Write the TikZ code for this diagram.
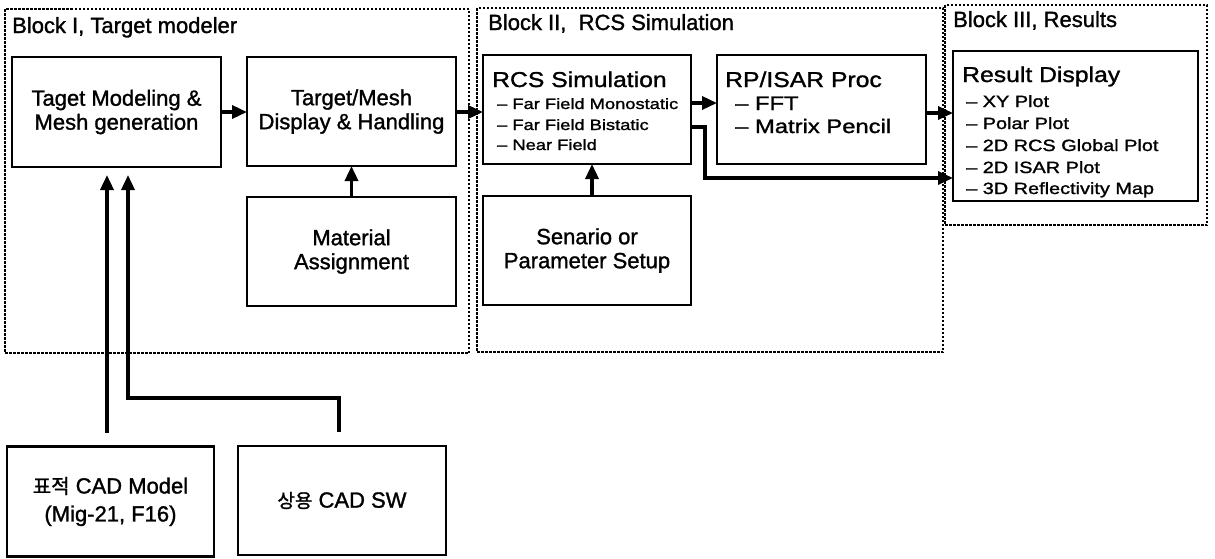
\documentclass[tikz,border=0pt]{standalone}
\usepackage{fontspec}
\setmainfont{Liberation Sans}[FakeBold=1.3]
\newfontfamily\wide{Liberation Sans}[FakeStretch=1.15,FakeBold=1.3]
\newfontfamily\wider{Liberation Sans}[FakeStretch=1.22,FakeBold=1.4]
\newfontfamily\kr{Noto Sans CJK KR}[FakeBold=1.3]
\usetikzlibrary{arrows.meta,calc}
\begin{document}
\begin{tikzpicture}[x=1pt,y=-1pt,
  frame/.style={draw, line width=1.5pt, dash pattern=on 2.5pt off 1.5pt},
  box/.style={draw, line width=2.3pt, rectangle, inner sep=0pt, outer sep=0pt,
    align=center, font=\fontsize{22}{24}\selectfont},
  conn/.style={line width=3.4pt, -{Triangle[length=15pt,width=13pt]}},
  txt/.style={inner sep=0pt, anchor=base west},
  lbl/.style={txt, font=\fontsize{22}{24}\selectfont},
  head/.style={txt, font=\wide\fontsize{21.5}{24}\selectfont},
]
\path[use as bounding box] (0,0) rectangle (1215,558);

% block frames
\draw[frame] (5,9) rectangle (469,353);
\draw[frame] (477,8) rectangle (943,352);
\draw[frame] (945,5) rectangle (1207,225);
\node[lbl] (lb1) at (12,33) {Block I, Target modeler};
\node[lbl] (lb2) at (488,30) {Block II,\ \ RCS Simulation};
\node[lbl] (lb3) at (953,27) {Block III, Results};

% boxes
\node[box, minimum width=209pt, minimum height=110pt] (tmod) at (116.5,112) {Taget Modeling \&\\Mesh generation};
\node[box, minimum width=209pt, minimum height=109pt] (tmesh) at (351.5,111.5) {Target/Mesh\\Display \& Handling};
\node[box, minimum width=209pt, minimum height=109pt] (mat) at (351.5,251.5) {Material\\Assignment};
\node[box, minimum width=208pt, minimum height=109pt] (rcs) at (587,109.5) {};
\node[box, minimum width=209pt, minimum height=109pt] (rp) at (821.5,109.5) {};
\node[box, minimum width=208pt, minimum height=109pt] (sen) at (587,250.5) {Senario or\\Parameter Setup};
\node[box, minimum width=245pt, minimum height=150pt] (res) at (1075.5,126) {};
\node[box, minimum width=207pt, minimum height=110pt, font=\fontsize{22}{28}\selectfont] (cad1) at (110.5,501.5) {{\kr\fontsize{20}{28}\selectfont 표적} CAD Model\\(Mig-21, F16)};
\node[box, minimum width=208pt, minimum height=109pt] (cad2) at (342,500.5) {{\kr\fontsize{19}{24}\selectfont 상용} CAD SW};

% box texts
\node[head] (h1) at (492,87) {RCS Simulation};
\node[txt, font=\wider\fontsize{15}{18}\selectfont] (r1) at (497,109) {– Far Field Monostatic};
\node[txt, font=\wider\fontsize{15}{18}\selectfont] (r2) at (497,130) {– Far Field Bistatic};
\node[txt, font=\wider\fontsize{15}{18}\selectfont] (r3) at (497,150) {– Near Field};
\node[head] (h2) at (725,87) {RP/ISAR Proc};
\node[txt, font=\wider\fontsize{19.5}{22}\selectfont] (p1) at (735,110) {– FFT};
\node[txt, font=\wider\fontsize{19.5}{22}\selectfont] (p2) at (735,133) {– Matrix Pencil};
\node[head] (h3) at (962,82) {Result Display};
\node[txt, font=\wider\fontsize{16.3}{20}\selectfont] (d1) at (966,107) {– XY Plot};
\node[txt, font=\wider\fontsize{16.3}{20}\selectfont] (d2) at (966,129) {– Polar Plot};
\node[txt, font=\wider\fontsize{16.3}{20}\selectfont] (d3) at (966,151) {– 2D RCS Global Plot};
\node[txt, font=\wider\fontsize{16.3}{20}\selectfont] (d4) at (966,173) {– 2D ISAR Plot};
\node[txt, font=\wider\fontsize{16.3}{20}\selectfont] (d5) at (966,194) {– 3D Reflectivity Map};

% helper coordinates
\coordinate (xa) at (107,0);
\coordinate (xb) at (128,0);
\coordinate (xc) at (339,0);
\coordinate (xd) at (705,0);
\coordinate (xs) at (592,0);
\coordinate (ya) at (0,398);
\coordinate (y112) at (0,112);
\coordinate (y103) at (0,103);
\coordinate (y113) at (0,113);
\coordinate (y127) at (0,127);
\coordinate (y178) at (0,178);

% connectors
\draw[conn] (tmod.east |- y112) -- (tmesh.west |- y112);
\draw[conn] (tmesh.east |- y112) -- (rcs.west |- y112);
\draw[conn] (rcs.east |- y103) -- (rp.west |- y103);
\draw[conn] (rp.east |- y113) -- (res.west |- y113);
\draw[conn] (rcs.east |- y127) -- (xd |- y127) -- (xd |- y178) -- (res.west |- y178);
\draw[conn] (mat.north) -- (tmesh.south);
\draw[conn] (sen.north -| xs) -- (rcs.south -| xs);
\draw[conn, shorten <=14pt, shorten >=8pt] (cad1.north -| xa) -- (tmod.south -| xa);
\draw[conn, shorten >=8pt] ($(cad2.north -| xc)+(0,-14)$) -- (xc |- ya) -- (xb |- ya) -- (tmod.south -| xb);
\end{tikzpicture}
\end{document}
